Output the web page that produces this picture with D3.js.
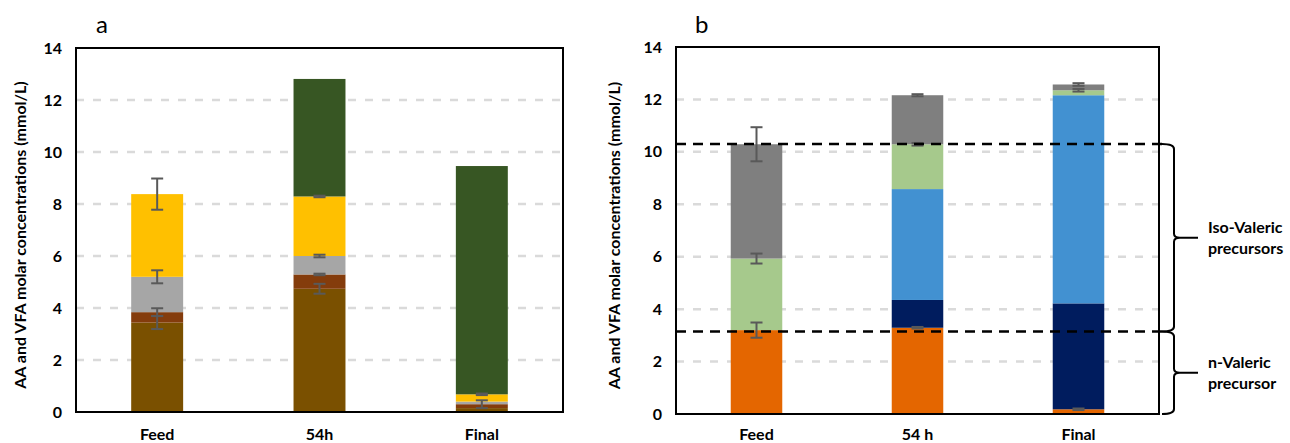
<!DOCTYPE html>
<html>
<head>
<meta charset="utf-8">
<script src="https://cdn.jsdelivr.net/npm/d3@7"></script>
<style>
  body { margin: 0; background: #fff; }
  svg { display: block; font-family: Lato, "Open Sans", sans-serif; }
</style>
</head>
<body>
<div id="chart"></div>
<script>
// panel a: AA and VFA
const catsA = ['Feed', '54h', 'Final'];
const keysA = ['brown', 'red', 'gray', 'yellow', 'green'];
const brownA  = [3.44, 4.74, 0.15];
const redA    = [0.40, 0.55, 0.15];
const grayA   = [1.36, 0.71, 0.10];
const yellowA = [3.18, 2.29, 0.28];
const greenA  = [0.00, 4.52, 8.78];
const errA = {
  brown:  [0.25, 0.19, 0.00],
  red:    [0.15, 0.03, 0.15],
  gray:   [0.25, 0.05, 0.00],
  yellow: [0.60, 0.03, 0.03],
  green:  [0.00, 0.00, 0.00],
};

// panel b: precursors
const catsB = ['Feed', '54 h', 'Final'];
const keysB = ['orange', 'navy', 'blue', 'lgreen', 'gray'];
const orangeB = [3.20, 3.29, 0.18];
const navyB   = [0.00, 1.06, 4.04];
const blueB   = [0.00, 4.23, 7.94];
const lgreenB = [2.73, 1.71, 0.19];
const grayB   = [4.36, 1.87, 0.22];
const errB = {
  orange: [0.29, 0.03, 0.03],
  navy:   [0, 0, 0],
  blue:   [0, 0, 0],
  lgreen: [0.19, 0.05, 0.05],
  gray:   [0.65, 0.04, 0.05],
};

const yTicks = [0, 2, 4, 6, 8, 10, 12, 14];
const dashLevels = [10.3, 3.15];
const braces = [
  {from: 10.3, to: 3.15, lines: ['Iso-Valeric', 'precursors']},
  {from: 3.15, to: 0, lines: ['n-Valeric', 'precursor']},
];

const colorsA = {brown: '#7a5000', red: '#843c0c', gray: '#a6a6a6', yellow: '#ffc000', green: '#375623'};
const colorsB = {orange: '#e46600', navy: '#001c5e', blue: '#4291d1', lgreen: '#a6c98c', gray: '#7f7f7f'};

const width = 1290, height = 443;
const yTitle = 'AA and VFA molar concentrations (mmol/L)';
const fs = 16;

const svg = d3.select('#chart').append('svg')
  .attr('width', width)
  .attr('height', height);

function table(cats, keys, cols) {
  return cats.map((c, i) => {
    const row = {cat: c};
    keys.forEach((k, j) => row[k] = cols[j][i]);
    return row;
  });
}

function panel(opts) {
  const {cats, keys, data, err, colors, left, right, top, bottom, letter, letterX, titleX} = opts;

  const x = d3.scaleBand()
    .domain(cats)
    .range([left, right])
    .paddingInner(0.68)
    .paddingOuter(0.34);

  const y = d3.scaleLinear()
    .domain([0, 14])
    .range([bottom, top]);

  const g = svg.append('g');

  // grid
  g.append('g')
    .selectAll('line')
    .data(yTicks.filter(d => d > 0 && d < 14))
    .join('line')
      .attr('x1', left)
      .attr('x2', right)
      .attr('y1', d => y(d))
      .attr('y2', d => y(d))
      .attr('stroke', '#dadada')
      .attr('stroke-width', 2.5)
      .attr('stroke-dasharray', '8,9');

  const series = d3.stack().keys(keys)(data);

  g.append('g')
    .selectAll('g')
    .data(series)
    .join('g')
      .attr('fill', d => colors[d.key])
    .selectAll('rect')
    .data(d => d.filter(s => s[1] - s[0] > 0))
    .join('rect')
      .attr('x', d => x(d.data.cat))
      .attr('width', x.bandwidth())
      .attr('y', d => y(d[1]))
      .attr('height', d => y(d[0]) - y(d[1]));

  // error bars at top of each segment
  const errs = [];
  series.forEach(s => s.forEach((d, i) => {
    const e = err[s.key][i];
    if (e > 0) errs.push({cat: d.data.cat, v: d[1], e});
  }));

  const eb = g.append('g')
    .attr('stroke', '#595959')
    .attr('stroke-width', 2)
    .selectAll('g')
    .data(errs)
    .join('g')
      .attr('transform', d => `translate(${x(d.cat) + x.bandwidth() / 2},0)`);
  eb.append('line')
    .attr('y1', d => y(d.v + d.e))
    .attr('y2', d => y(d.v - d.e));
  eb.append('line')
    .attr('x1', -6).attr('x2', 6)
    .attr('y1', d => y(d.v + d.e))
    .attr('y2', d => y(d.v + d.e));
  eb.append('line')
    .attr('x1', -6).attr('x2', 6)
    .attr('y1', d => y(d.v - d.e))
    .attr('y2', d => y(d.v - d.e));

  // frame
  g.append('rect')
    .attr('x', left)
    .attr('y', top)
    .attr('width', right - left)
    .attr('height', bottom - top)
    .attr('fill', 'none')
    .attr('stroke', '#000')
    .attr('stroke-width', 2);

  // y ticks
  g.append('g')
    .attr('font-size', fs)
    .attr('font-weight', 'bold')
    .attr('text-anchor', 'end')
    .selectAll('text')
    .data(yTicks)
    .join('text')
      .attr('x', left - 14)
      .attr('y', d => y(d))
      .attr('dy', '0.35em')
      .text(d => d);

  // x labels
  g.append('g')
    .attr('font-size', fs)
    .attr('font-weight', 'bold')
    .attr('text-anchor', 'middle')
    .selectAll('text')
    .data(cats)
    .join('text')
      .attr('x', d => x(d) + x.bandwidth() / 2)
      .attr('y', 440)
      .text(d => d);

  g.append('text')
    .attr('transform', `translate(${titleX},${(top + bottom) / 2 + 5}) rotate(-90)`)
    .attr('text-anchor', 'middle')
    .attr('dy', '0.35em')
    .attr('font-size', fs)
    .attr('font-weight', 'bold')
    .text(yTitle);

  g.append('text')
    .attr('x', letterX)
    .attr('y', 33)
    .attr('font-size', 24)
    .text(letter);

  return {x, y, g};
}

panel({
  cats: catsA, keys: keysA,
  data: table(catsA, keysA, [brownA, redA, grayA, yellowA, greenA]),
  err: errA, colors: colorsA,
  left: 76, right: 563, top: 48, bottom: 412,
  letter: 'a', letterX: 96, titleX: 20,
});

const pb = panel({
  cats: catsB, keys: keysB,
  data: table(catsB, keysB, [orangeB, navyB, blueB, lgreenB, grayB]),
  err: errB, colors: colorsB,
  left: 676, right: 1159, top: 47, bottom: 414,
  letter: 'b', letterX: 695, titleX: 614,
});

// reference levels in panel b
pb.g.append('g')
  .selectAll('line')
  .data(dashLevels)
  .join('line')
    .attr('x1', 676)
    .attr('x2', 1162)
    .attr('y1', d => pb.y(d))
    .attr('y2', d => pb.y(d))
    .attr('stroke', '#000')
    .attr('stroke-width', 2.5)
    .attr('stroke-dasharray', '10,7');

// curly braces
const bx = 1174;
const br = pb.g.append('g');
braces.forEach(b => {
  const y0 = pb.y(b.from), y1 = pb.y(b.to), m = (y0 + y1) / 2;
  const p = d3.path();
  p.moveTo(bx - 12, y0);
  p.quadraticCurveTo(bx, y0, bx, y0 + 5);
  p.lineTo(bx, m - 4);
  p.quadraticCurveTo(bx, m, bx + 6, m);
  p.lineTo(bx + 24, m);
  p.moveTo(bx + 6, m);
  p.quadraticCurveTo(bx, m, bx, m + 4);
  p.lineTo(bx, y1 - 5);
  p.quadraticCurveTo(bx, y1, bx - 12, y1);
  br.append('path')
    .attr('d', p.toString())
    .attr('fill', 'none')
    .attr('stroke', '#000')
    .attr('stroke-width', 2);
  br.append('text')
    .attr('font-size', fs)
    .attr('font-weight', 'bold')
    .selectAll('tspan')
    .data(b.lines)
    .join('tspan')
      .attr('x', bx + 34)
      .attr('y', (d, i) => m - 10 + i * 21)
      .attr('dy', '0.35em')
      .text(d => d);
});
</script>
</body>
</html>
